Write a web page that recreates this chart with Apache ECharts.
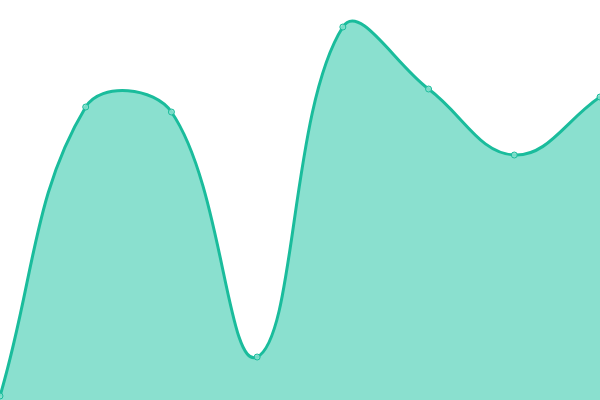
<!DOCTYPE html>
<html>
<head>
<meta charset="utf-8">
<script src="https://cdn.jsdelivr.net/npm/echarts@6/dist/echarts.min.js"></script>
<style>html,body{margin:0;padding:0;background:#fff}#c{width:600px;height:400px}</style>
</head>
<body>
<div id="c"></div>
<script>
var categories = ['1', '2', '3', '4', '5', '6', '7', '8'];
var values = [1, 73.25, 72, 10.75, 93.25, 77.75, 61.25, 75.75];

var LINE = '#1abc9c';
var AREA = '#8ae0cf';
var TENSION = 0.4;

function splinePath(pts) {
  // cardinal-like spline (tension-based control points)
  var cps = pts.map(function (p, i) {
    var prev = pts[i - 1] || p, next = pts[i + 1] || p;
    var d01 = Math.hypot(p[0] - prev[0], p[1] - prev[1]);
    var d12 = Math.hypot(next[0] - p[0], next[1] - p[1]);
    var s = d01 + d12 || 1;
    var fa = TENSION * d01 / s, fb = TENSION * d12 / s;
    return {
      prev: [p[0] - fa * (next[0] - prev[0]), p[1] - fa * (next[1] - prev[1])],
      next: [p[0] + fb * (next[0] - prev[0]), p[1] + fb * (next[1] - prev[1])]
    };
  });
  var d = 'M' + pts[0][0] + ' ' + pts[0][1];
  for (var i = 1; i < pts.length; i++) {
    var a = cps[i - 1].next, b = cps[i].prev, p = pts[i];
    d += ' C' + a[0] + ' ' + a[1] + ' ' + b[0] + ' ' + b[1] + ' ' + p[0] + ' ' + p[1];
  }
  return d;
}

var chart = echarts.init(document.getElementById('c'));
chart.setOption({
  animation: false,
  grid: { left: 0, right: 0, top: 0, bottom: 0 },
  xAxis: { type: 'category', data: categories, boundaryGap: false, show: false },
  yAxis: { type: 'value', min: 0, max: 100, show: false },
  series: [{
    type: 'custom',
    data: values.map(function (v, i) { return [i, v]; }),
    renderItem: function (params, api) {
      if (params.dataIndex !== 0) return null;
      var pts = values.map(function (v, i) { return api.coord([i, v]); });
      var base = api.coord([0, 0])[1];
      var line = splinePath(pts);
      var area = line + ' L' + pts[pts.length - 1][0] + ' ' + base + ' L' + pts[0][0] + ' ' + base + ' Z';
      return {
        type: 'group',
        children: [
          { type: 'path', shape: { pathData: area }, style: { fill: AREA, stroke: null } },
          { type: 'path', shape: { pathData: line }, style: { fill: null, stroke: LINE, lineWidth: 3 } }
        ]
      };
    },
    z: 1
  }, {
    type: 'scatter',
    data: values,
    symbol: 'circle',
    symbolSize: 6,
    itemStyle: { color: 'rgba(138,224,207,0.85)', borderColor: LINE, borderWidth: 1, opacity: 1 },
    z: 2
  }]
});
</script>
</body>
</html>
